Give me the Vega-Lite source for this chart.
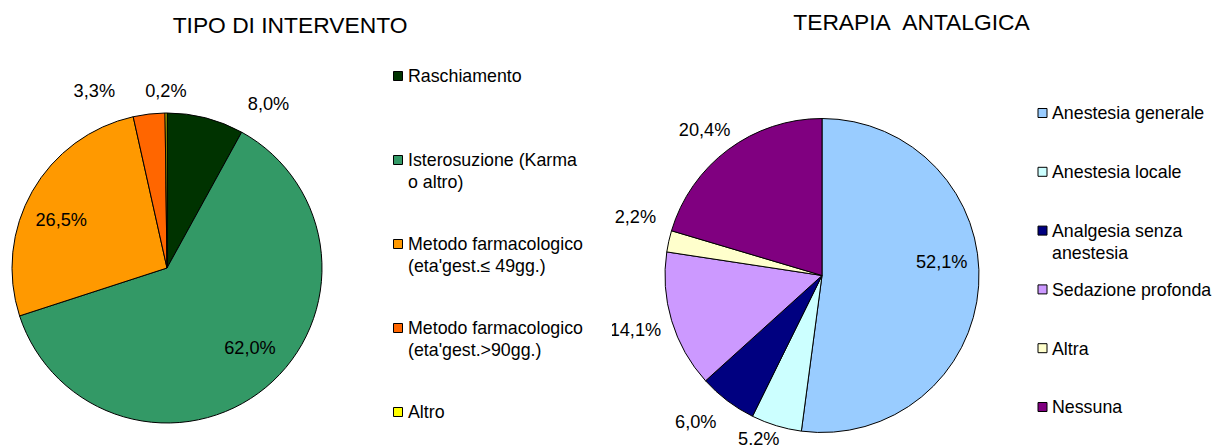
{
  "$schema": "https://vega.github.io/schema/vega-lite/v6.json",
  "padding": {"left": 0, "top": 12, "right": 0, "bottom": 0},
  "background": "white",
  "bounds": "flush",
  "spacing": 0,
  "config": {
    "view": {"stroke": null},
    "text": {"font": "Liberation Sans", "fontSize": 18.2, "color": "black"},
    "title": {"font": "Liberation Sans", "fontSize": 22.8, "fontWeight": "normal", "color": "black", "anchor": "middle"}
  },
  "resolve": {"scale": {"color": "independent", "theta": "independent", "y": "independent"}},
  "datasets": {
    "tipo": [
      {"k": "ras", "cat": "Raschiamento", "pct": 8.0, "lab": "8,0%", "lines": ["Raschiamento"]},
      {"k": "ist", "cat": "Isterosuzione (Karma o altro)", "pct": 62.0, "lab": "62,0%", "lines": ["Isterosuzione (Karma", "o altro)"]},
      {"k": "m49", "cat": "Metodo farmacologico (eta'gest.≤ 49gg.)", "pct": 26.5, "lab": "26,5%", "lines": ["Metodo farmacologico", "(eta'gest.≤ 49gg.)"]},
      {"k": "m90", "cat": "Metodo farmacologico (eta'gest.>90gg.)", "pct": 3.3, "lab": "3,3%", "lines": ["Metodo farmacologico", "(eta'gest.>90gg.)"]},
      {"k": "alt", "cat": "Altro", "pct": 0.2, "lab": "0,2%", "lines": ["Altro"]}
    ],
    "terapia": [
      {"k": "gen", "cat": "Anestesia generale", "pct": 52.1, "lab": "52,1%", "lines": ["Anestesia generale"]},
      {"k": "loc", "cat": "Anestesia locale", "pct": 5.2, "lab": "5,2%", "lines": ["Anestesia locale"]},
      {"k": "ana", "cat": "Analgesia senza anestesia", "pct": 6.0, "lab": "6,0%", "lines": ["Analgesia senza", "anestesia"]},
      {"k": "sed", "cat": "Sedazione profonda", "pct": 14.1, "lab": "14,1%", "lines": ["Sedazione profonda"]},
      {"k": "alt", "cat": "Altra", "pct": 2.2, "lab": "2,2%", "lines": ["Altra"]},
      {"k": "nes", "cat": "Nessuna", "pct": 20.4, "lab": "20,4%", "lines": ["Nessuna"]}
    ]
  },
  "hconcat": [
    {
      "title": {"text": "TIPO DI INTERVENTO", "offset": 44, "dx": 123},
      "width": 334,
      "height": 324,
      "data": {"name": "tipo"},
      "transform": [{"window": [{"op": "row_number", "as": "ord"}]}],
      "encoding": {
        "theta": {"field": "pct", "type": "quantitative", "stack": true},
        "order": {"field": "ord", "type": "quantitative"},
        "detail": {"field": "k", "type": "nominal"}
      },
      "layer": [
        {
          "mark": {"type": "arc", "radius": 155, "stroke": "black", "strokeWidth": 1},
          "encoding": {
            "color": {"field": "k", "type": "nominal", "legend": null,
              "scale": {"domain": ["ras", "ist", "m49", "m90", "alt"], "range": ["#003300", "#339966", "#FF9900", "#FF6600", "#FFFF00"]}}
          }
        },
        {
          "mark": {
            "type": "text", "radius": 116,
            "dx": {"expr": "datum.k === 'ist' ? 9 : datum.k === 'm49' ? -5 : 0"},
            "dy": {"expr": "datum.k === 'ist' ? -8 : datum.k === 'm49' ? 10 : 0"}
          },
          "encoding": {"text": {"condition": {"test": "datum.pct > 20", "field": "lab"}, "value": ""}}
        },
        {
          "mark": {
            "type": "text", "radius": 176,
            "align": {"expr": "datum.k === 'm90' ? 'right' : datum.k === 'ras' ? 'left' : 'center'"},
            "dx": {"expr": "datum.k === 'm90' ? -31.5 : datum.k === 'ras' ? 37 : 0"},
            "dy": {"expr": "datum.k === 'm90' ? -1 : datum.k === 'ras' ? 7.5 : 0"}
          },
          "encoding": {"text": {"condition": {"test": "datum.pct < 10", "field": "lab"}, "value": ""}}
        }
      ]
    },
    {
      "width": 278,
      "height": 324,
      "data": {"name": "tipo"},
      "encoding": {
        "y": {"field": "k", "type": "nominal", "axis": null,
          "scale": {"type": "point", "padding": 0, "domain": ["ras", "ist", "m49", "m90", "alt"], "range": [-30, 306]}}
      },
      "layer": [
        {
          "mark": {"type": "point", "shape": "square", "size": 81, "filled": true, "opacity": 1, "stroke": "black", "strokeWidth": 1, "x": 64},
          "encoding": {
            "color": {"field": "k", "type": "nominal", "legend": null,
              "scale": {"domain": ["ras", "ist", "m49", "m90", "alt"], "range": ["#003300", "#339966", "#FF9900", "#FF6600", "#FFFF00"]}}
          }
        },
        {
          "mark": {"type": "text", "align": "left", "baseline": "alphabetic", "x": 74, "dy": 6.3, "fontSize": 17.8, "lineHeight": 22, "limit": 175, "ellipsis": ""},
          "encoding": {"text": {"field": "lines"}}
        }
      ]
    },
    {
      "title": {"text": "TERAPIA\u00a0 ANTALGICA", "offset": 71, "dx": 89.5},
      "width": 420,
      "height": 339,
      "data": {"name": "terapia"},
      "transform": [{"window": [{"op": "row_number", "as": "ord"}]}],
      "encoding": {
        "theta": {"field": "pct", "type": "quantitative", "stack": true},
        "order": {"field": "ord", "type": "quantitative"},
        "detail": {"field": "k", "type": "nominal"}
      },
      "layer": [
        {
          "mark": {"type": "arc", "radius": 157, "stroke": "black", "strokeWidth": 1},
          "encoding": {
            "color": {"field": "k", "type": "nominal", "legend": null,
              "scale": {"domain": ["gen", "loc", "ana", "sed", "alt", "nes"], "range": ["#99CCFF", "#CCFFFF", "#000080", "#CC99FF", "#FFFFCC", "#800080"]}}
          }
        },
        {
          "mark": {"type": "text", "radius": 120, "dy": -20},
          "encoding": {"text": {"condition": {"test": "datum.k === 'gen'", "field": "lab"}, "value": ""}}
        },
        {
          "mark": {
            "type": "text", "radius": 170, "align": "right", "clip": true,
            "dx": {"expr": "datum.k === 'loc' ? 7 : datum.k === 'ana' ? -3 : datum.k === 'sed' ? 2 : datum.k === 'nes' ? 10 : 0"},
            "dy": {"expr": "datum.k === 'loc' ? 2 : datum.k === 'ana' ? 12 : datum.k === 'sed' ? 7 : datum.k === 'alt' ? -20 : datum.k === 'nes' ? -8 : 0"}
          },
          "encoding": {"text": {"condition": {"test": "datum.k !== 'gen'", "field": "lab"}, "value": ""}}
        }
      ]
    },
    {
      "width": 182,
      "height": 339,
      "data": {"name": "terapia"},
      "encoding": {
        "y": {"field": "k", "type": "nominal", "axis": null,
          "scale": {"type": "point", "padding": 0, "domain": ["gen", "loc", "ana", "sed", "alt", "nes"], "range": [7, 301]}}
      },
      "layer": [
        {
          "mark": {"type": "point", "shape": "square", "size": 81, "filled": true, "opacity": 1, "stroke": "black", "strokeWidth": 1, "x": 10.5},
          "encoding": {
            "color": {"field": "k", "type": "nominal", "legend": null,
              "scale": {"domain": ["gen", "loc", "ana", "sed", "alt", "nes"], "range": ["#99CCFF", "#CCFFFF", "#000080", "#CC99FF", "#FFFFCC", "#800080"]}}
          }
        },
        {
          "mark": {"type": "text", "align": "left", "baseline": "alphabetic", "x": 20, "dy": 6.3, "fontSize": 17.8, "lineHeight": 22, "limit": 162, "ellipsis": ""},
          "encoding": {"text": {"field": "lines"}}
        }
      ]
    }
  ]
}
